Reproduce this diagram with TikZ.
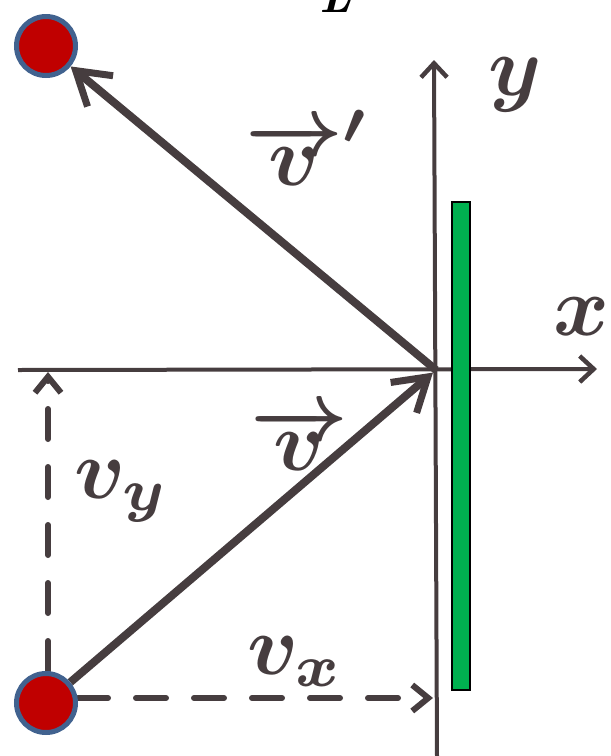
\documentclass[tikz,border=0pt]{standalone}
\usepackage{graphicx}
\usetikzlibrary{arrows.meta}
\definecolor{ink}{HTML}{463D3F}
\definecolor{ballred}{HTML}{C00000}
\definecolor{ballblue}{HTML}{41628F}
\definecolor{wallgreen}{HTML}{00B050}
\pgfdeclarelayer{bg}
\pgfsetlayers{bg,main}
\newcommand{\hugemath}[1]{\scalebox{8.5}{\mathversion{bold}$#1$}}
\begin{document}
\begin{tikzpicture}[x=1pt,y=-1pt,
  axis/.style={ink,line width=4pt,-{Straight Barb[length=14pt,width=26pt,line width=4.5pt]}},
  vecline/.style={ink,line width=8pt,-{Straight Barb[length=32pt,width=40pt,line width=7pt]}},
  dashline/.style={ink,line width=6pt,line cap=round,dash pattern=on 30pt off 28pt,-{Straight Barb[length=16pt,width=26pt,line width=6pt]}},
  ball/.style={circle,draw=ballblue,fill=ballred,line width=5pt,minimum size=59pt,inner sep=0pt},
  lbl/.style={ink,inner sep=0pt}]
\useasboundingbox (0,0) rectangle (611,756);
% balls and wall
\node[ball] (b1) at (46,46) {};
\node[ball] (b2) at (46,703) {};
\coordinate (O) at (436,370);
\coordinate (ytop) at (434,60);
\coordinate (ybot) at (437,756);
\coordinate (xl) at (18,370);
\coordinate (xr) at (597,369);
\begin{pgfonlayer}{bg}
  \draw[axis] (ybot) -- (ytop);
  \draw[axis] (xl) -- (xr);
  \draw[vecline] (O) -- (b1);
  \draw[vecline,shorten >=4pt] (b2) -- (O);
  \draw[dashline,shorten >=2pt] ([xshift=2pt]b2.north) -- ([xshift=2pt]b2.north |- O);
  \draw[dashline,shorten >=3pt] ([yshift=5pt]b2.east) -- ([yshift=5pt]b2.east -| O);
\end{pgfonlayer}
\node[draw=black,fill=wallgreen,line width=2pt,minimum width=18pt,minimum height=488pt,inner sep=0pt] (wall) at (461,446) {};
% labels
\node[font=\fontsize{46}{46}\selectfont\bfseries\itshape,anchor=base,inner sep=0pt] (L) at (336,12) {L};
\node[lbl,anchor=base west] (vp) at (245,185) {\hugemath{\overrightarrow{v}'}};
\node[lbl,anchor=base west] (v) at (250,470) {\hugemath{\overrightarrow{v}}};
\node[lbl,anchor=base west] (vy) at (74,498) {\hugemath{v_y}};
\node[lbl,anchor=base west] (vx) at (247,674) {\hugemath{v_x}};
\node[lbl,anchor=base west] (xlab) at (553,335) {\hugemath{x}};
\node[lbl,anchor=base west] (ylab) at (488,95) {\hugemath{y}};
\end{tikzpicture}
\end{document}
